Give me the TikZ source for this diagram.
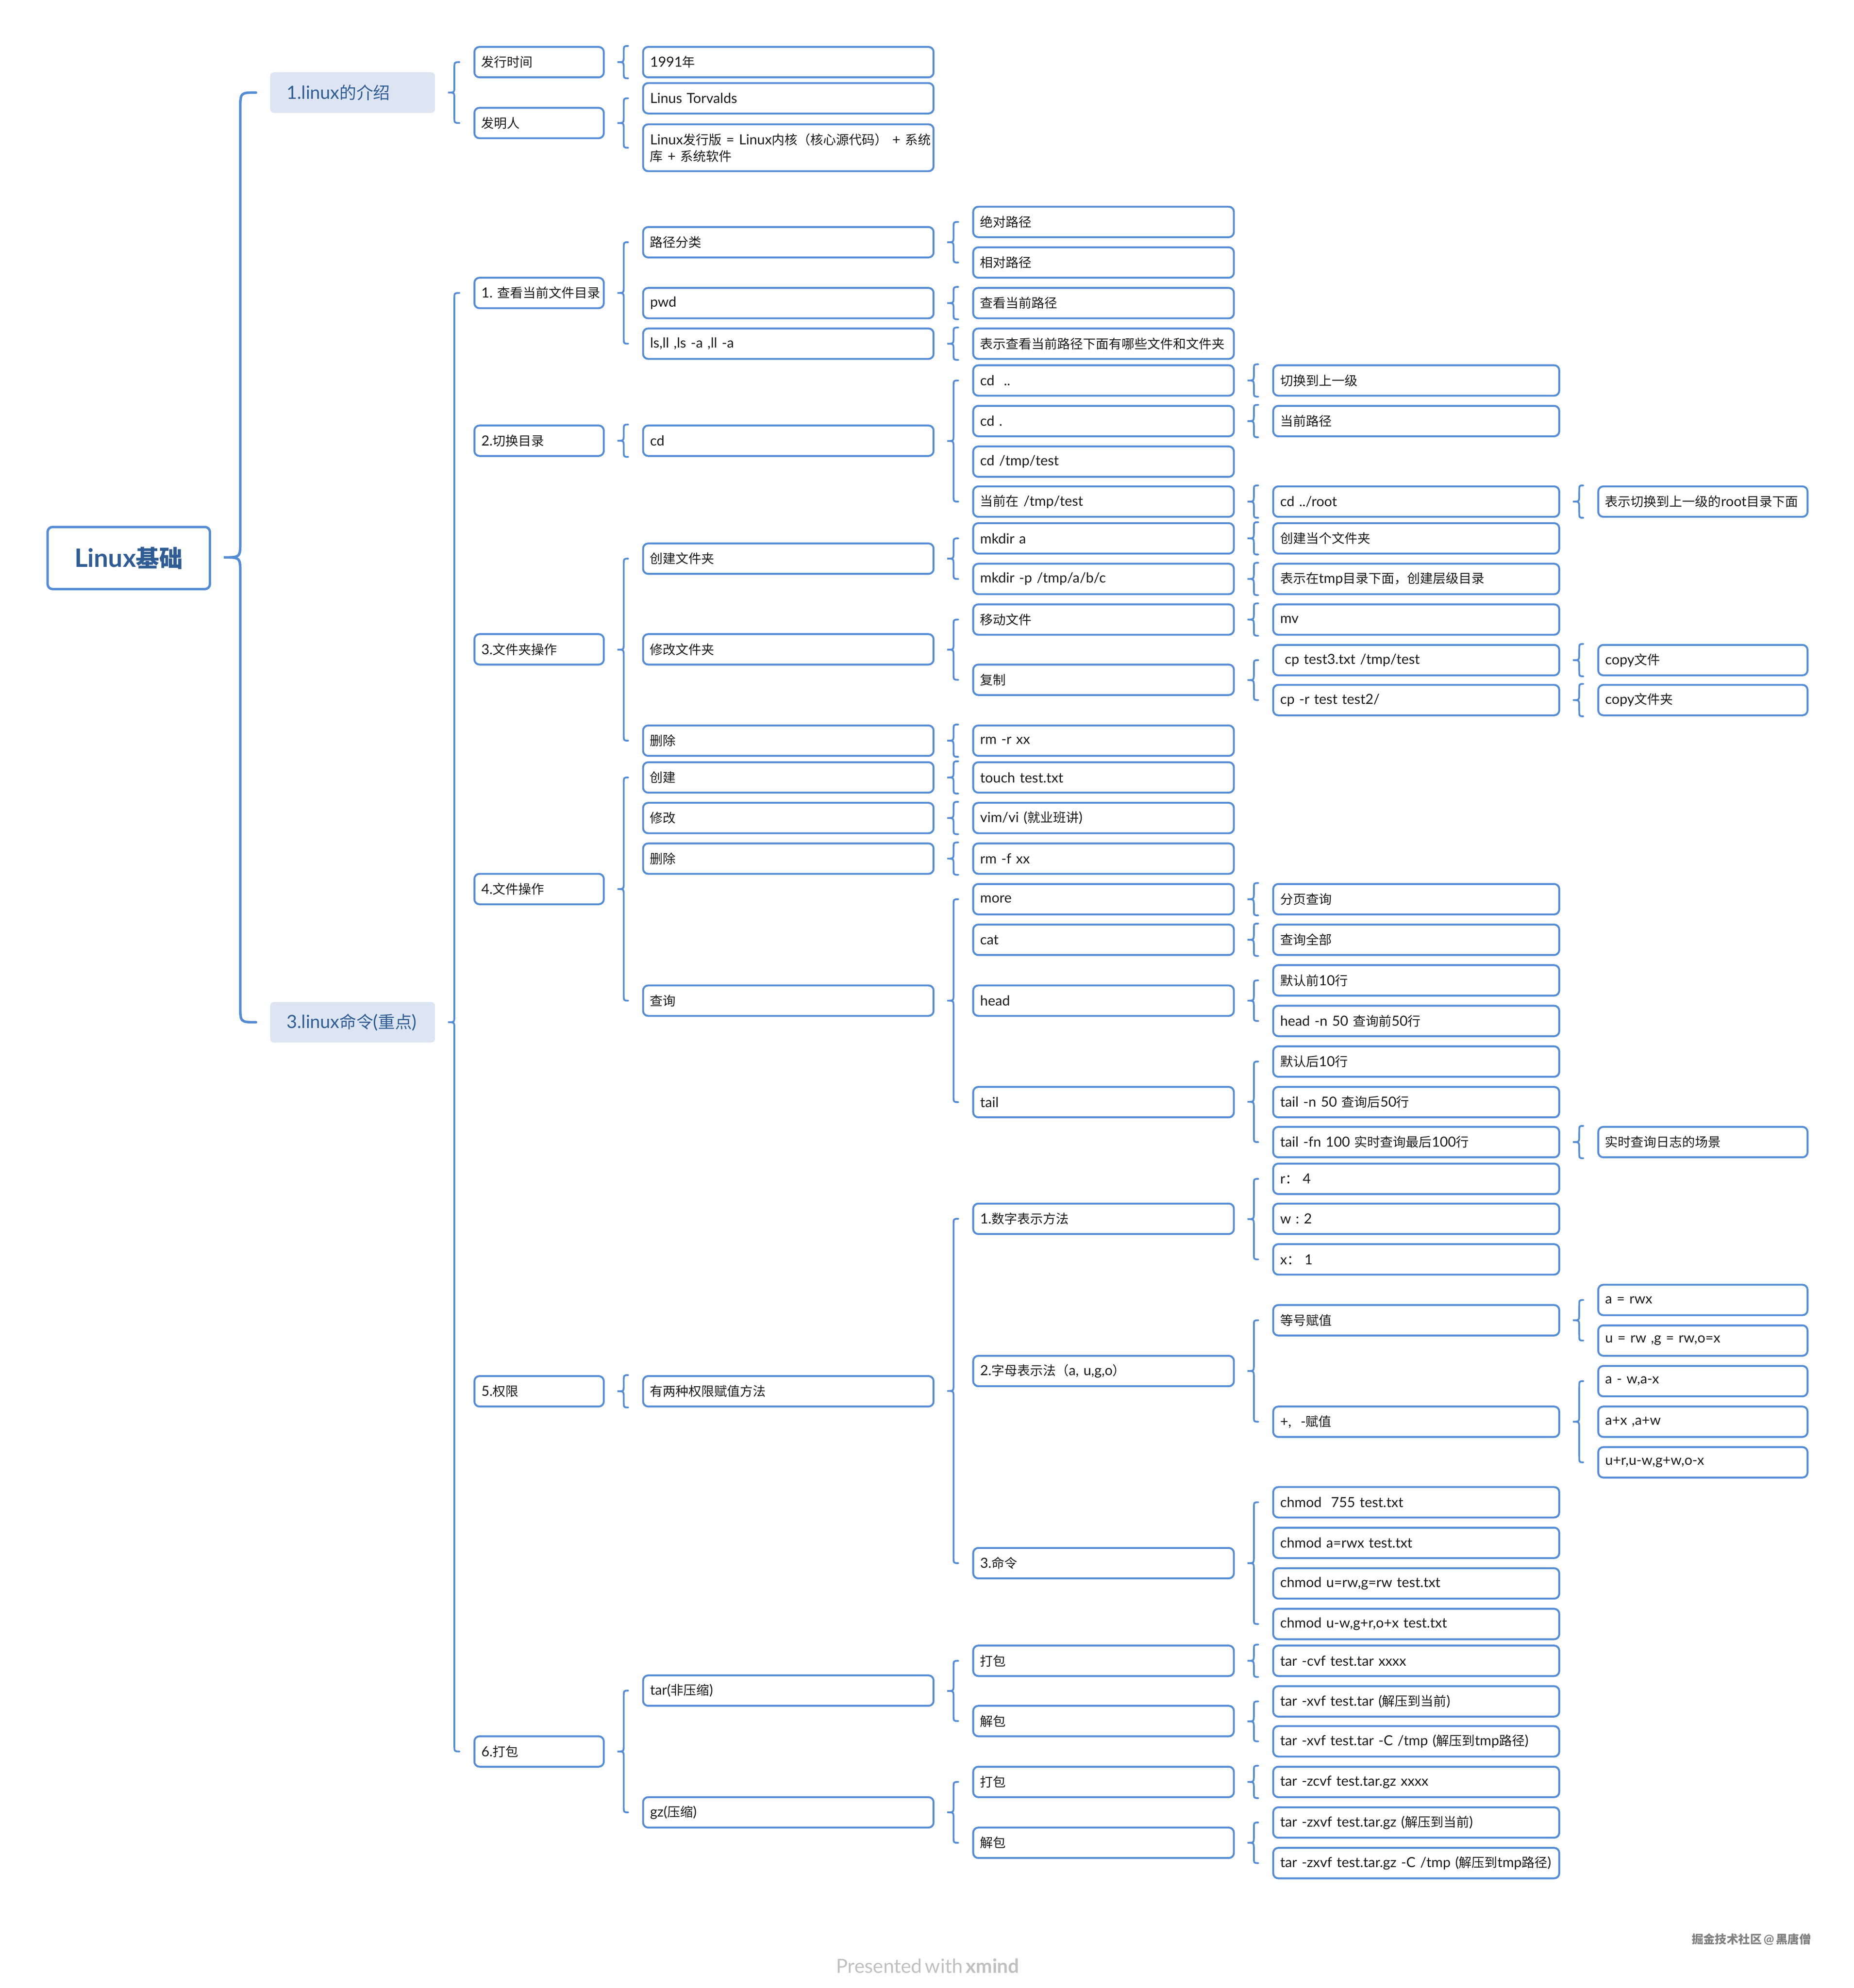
\documentclass[tikz,border=0pt]{standalone}
\usepackage{fontspec}
\usetikzlibrary{calc}
\setmainfont{Lato}[Scale=1.08,WordSpace=0.6]
\newfontfamily\cjk{Noto Sans CJK SC}
\frenchspacing
% switch to the CJK family at every change of script
\newcount\cjkchar
\newcommand{\markcjk}[2]{\cjkchar=#1 \loop \XeTeXcharclass\cjkchar=1 \advance\cjkchar by 1 \ifnum\cjkchar<#2 \repeat}
\markcjk{"3000}{"3040}
\markcjk{"4E00}{"A000}
\markcjk{"FF00}{"FFF0}
\XeTeXinterchartokenstate=1
\XeTeXinterchartoks 0 1 = {\begingroup\cjk}
\XeTeXinterchartoks 4095 1 = {\begingroup\cjk}
\XeTeXinterchartoks 1 0 = {\endgroup}
\XeTeXinterchartoks 1 4095 = {\endgroup}
\definecolor{linkblue}{HTML}{558CD6}
\definecolor{headblue}{HTML}{2F5C94}
\definecolor{headfill}{HTML}{DCE5F1}
\tikzset{
  leaf/.style={draw=linkblue,line width=1.5pt,rounded corners=4pt,fill=white,minimum height=24pt,
    inner xsep=5.5pt,inner ysep=0pt,align=left,font=\fontsize{10.15}{13}\selectfont,text=black!90},
  colA/.style={leaf,text width=91pt},
  colB/.style={leaf,text width=218pt},
  colC/.style={leaf,text width=194.5pt},
  colD/.style={leaf,text width=214.5pt},
  colE/.style={leaf,text width=154pt},
  head/.style={fill=headfill,rounded corners=3pt,minimum height=32pt,minimum width=104pt,text width=104pt,
    inner xsep=13pt,inner ysep=0pt,font=\fontsize{13.3}{16}\selectfont,text=headblue},
  bracket/.style={draw=linkblue,line width=1.4pt,line cap=round},
}
% radius, parent, first end, last end
\newcommand{\bracelink}[4][5]{%
  \draw[bracket] let \p1=(#2.east), \p2=(#3), \p3=(#4), \n1={\x1+10pt}, \n2={\x1+10pt+#1pt}, \n3={\x2-11pt},
    \n4={0.5*(\y2+\y3)} in
    (\n3,\y2) .. controls (\n2,\y2) and (\n2,\y2) .. (\n2,\y2-#1pt) -- (\n2,\n4+#1pt)
    .. controls (\n2,\n4) and (\n2,\n4) .. (\n1,\n4)
    .. controls (\n2,\n4) and (\n2,\n4) .. (\n2,\n4-#1pt) -- (\n2,\y3+#1pt)
    .. controls (\n2,\y3) and (\n2,\y3) .. (\n3,\y3);
}
\newcommand{\onelink}[2]{\bracelink{#1}{#2.north west}{#2.south west}}
\begin{document}
\begin{tikzpicture}[x=1pt,y=-1pt]
  \useasboundingbox (0,0) rectangle (1461.6,1567.5);

  % Root and main topics
  \node[draw=linkblue,line width=1.9pt,rounded corners=4pt,minimum width=128pt,minimum height=49pt,inner sep=0pt,
    font=\fontsize{18.5}{22}\selectfont\bfseries,text=headblue] (root) at (101.5,440) {Linux基础};
  \node[head] (intro) at (278,73) {1.linux的介绍};
  \node[head] (cmds) at (278,806) {3.linux命令(重点)};

  % Column A
  \node[colA] (a1) at (425,49) {发行时间};
  \node[colA] (a2) at (425,97) {发明人};
  \node[colA] (a3) at (425,231) {\mbox{1. 查看当前文件目录}};
  \node[colA] (a4) at (425,347.5) {2.切换目录};
  \node[colA] (a5) at (425,512) {3.文件夹操作};
  \node[colA] (a6) at (425,701) {4.文件操作};
  \node[colA] (a7) at (425,1097) {5.权限};
  \node[colA] (a8) at (425,1381) {6.打包};

  % Column B
  \node[colB] (b1) at (621.5,49) {1991年};
  \node[colB] (b2) at (621.5,77.5) {Linus Torvalds};
  \node[colB,minimum height=37pt] (b3) at (621.5,116.5) {\mbox{Linux发行版 = Linux内核（核心源代码） + 系统}\\库 + 系统软件};
  \node[colB] (b4) at (621.5,191) {路径分类};
  \node[colB] (b5) at (621.5,239) {pwd};
  \node[colB] (b6) at (621.5,271) {ls,ll ,ls -a ,ll -a};
  \node[colB] (b7) at (621.5,347.5) {cd};
  \node[colB] (b8) at (621.5,440.5) {创建文件夹};
  \node[colB] (b9) at (621.5,512) {修改文件夹};
  \node[colB] (b10) at (621.5,584) {删除};
  \node[colB] (b11) at (621.5,613) {创建};
  \node[colB] (b12) at (621.5,645) {修改};
  \node[colB] (b13) at (621.5,677) {删除};
  \node[colB] (b14) at (621.5,789) {查询};
  \node[colB] (b15) at (621.5,1097) {有两种权限赋值方法};
  \node[colB] (b16) at (621.5,1333) {tar(非压缩)};
  \node[colB] (b17) at (621.5,1429) {gz(压缩)};

  % Column C
  \node[colC] (c1) at (870,175) {绝对路径};
  \node[colC] (c2) at (870,207) {相对路径};
  \node[colC] (c3) at (870,239) {查看当前路径};
  \node[colC] (c4) at (870,271) {表示查看当前路径下面有哪些文件和文件夹};
  \node[colC] (c5) at (870,300) {cd \ ..};
  \node[colC] (c6) at (870,332) {cd .};
  \node[colC] (c7) at (870,364) {cd /tmp/test};
  \node[colC] (c8) at (870,395.5) {当前在 /tmp/test};
  \node[colC] (c9) at (870,424.5) {mkdir a};
  \node[colC] (c10) at (870,456.5) {mkdir -p /tmp/a/b/c};
  \node[colC] (c11) at (870,488.5) {移动文件};
  \node[colC] (c12) at (870,536) {复制};
  \node[colC] (c13) at (870,584) {rm -r xx};
  \node[colC] (c14) at (870,613) {touch test.txt};
  \node[colC] (c15) at (870,645) {vim/vi (就业班讲)};
  \node[colC] (c16) at (870,677) {rm -f xx};
  \node[colC] (c17) at (870,709) {more};
  \node[colC] (c18) at (870,741) {cat};
  \node[colC] (c19) at (870,789) {head};
  \node[colC] (c20) at (870,869) {tail};
  \node[colC] (c21) at (870,961) {1.数字表示方法};
  \node[colC] (c22) at (870,1081) {2.字母表示法（a, u,g,o）};
  \node[colC] (c23) at (870,1232.5) {3.命令};
  \node[colC] (c24) at (870,1309.5) {打包};
  \node[colC] (c25) at (870,1357) {解包};
  \node[colC] (c26) at (870,1405) {打包};
  \node[colC] (c27) at (870,1453) {解包};

  % Column D
  \node[colD] (d1) at (1116.5,300) {切换到上一级};
  \node[colD] (d2) at (1116.5,332) {当前路径};
  \node[colD] (d3) at (1116.5,395.5) {cd ../root};
  \node[colD] (d4) at (1116.5,424.5) {创建当个文件夹};
  \node[colD] (d5) at (1116.5,456.5) {表示在tmp目录下面，创建层级目录};
  \node[colD] (d6) at (1116.5,488.5) {mv};
  \node[colD] (d7) at (1116.5,520.5) {\ cp test3.txt /tmp/test};
  \node[colD] (d8) at (1116.5,552) {cp -r test test2/};
  \node[colD] (d9) at (1116.5,709) {分页查询};
  \node[colD] (d10) at (1116.5,741) {查询全部};
  \node[colD] (d11) at (1116.5,773) {默认前10行};
  \node[colD] (d12) at (1116.5,805) {head -n 50 查询前50行};
  \node[colD] (d13) at (1116.5,837) {默认后10行};
  \node[colD] (d14) at (1116.5,869) {tail -n 50 查询后50行};
  \node[colD] (d15) at (1116.5,900.5) {tail -fn 100 实时查询最后100行};
  \node[colD] (d16) at (1116.5,929.5) {r：\ 4};
  \node[colD] (d17) at (1116.5,961) {w : 2};
  \node[colD] (d18) at (1116.5,993) {x：\ 1};
  \node[colD] (d19) at (1116.5,1041) {等号赋值};
  \node[colD] (d20) at (1116.5,1121) {+,\ \ -赋值};
  \node[colD] (d21) at (1116.5,1184.5) {chmod\ \ 755 test.txt};
  \node[colD] (d22) at (1116.5,1216.5) {chmod a=rwx test.txt};
  \node[colD] (d23) at (1116.5,1248.5) {chmod u=rw,g=rw test.txt};
  \node[colD] (d24) at (1116.5,1280.5) {chmod u-w,g+r,o+x test.txt};
  \node[colD] (d25) at (1116.5,1309.5) {tar -cvf test.tar xxxx};
  \node[colD] (d26) at (1116.5,1341.5) {tar -xvf test.tar (解压到当前)};
  \node[colD] (d27) at (1116.5,1373) {tar -xvf test.tar -C /tmp (解压到tmp路径)};
  \node[colD] (d28) at (1116.5,1405) {tar -zcvf test.tar.gz xxxx};
  \node[colD] (d29) at (1116.5,1437) {tar -zxvf test.tar.gz (解压到当前)};
  \node[colD] (d30) at (1116.5,1469) {tar -zxvf test.tar.gz -C /tmp (解压到tmp路径)};

  % Column E
  \node[colE] (e1) at (1342.5,395.5) {表示切换到上一级的root目录下面};
  \node[colE] (e2) at (1342.5,520.5) {copy文件};
  \node[colE] (e3) at (1342.5,552) {copy文件夹};
  \node[colE] (e4) at (1342.5,900.5) {实时查询日志的场景};
  \node[colE] (e5) at (1342.5,1025) {a = rwx};
  \node[colE] (e6) at (1342.5,1057) {u = rw ,g = rw,o=x};
  \node[colE] (e7) at (1342.5,1089) {a - w,a-x};
  \node[colE] (e8) at (1342.5,1121) {a+x ,a+w};
  \node[colE] (e9) at (1342.5,1153) {u+r,u-w,g+w,o-x};

  % Braces
  \begin{scope}[bracket/.append style={line width=2pt}]
    \bracelink[13]{root}{intro.west}{cmds.west}
  \end{scope}
  \bracelink{intro}{a1.west}{a2.west}
  \bracelink{cmds}{a3.west}{a8.west}
  \onelink{a1}{b1}
  \bracelink{a2}{b2.west}{b3.west}
  \bracelink{a3}{b4.west}{b6.west}
  \onelink{a4}{b7}
  \bracelink{a5}{b8.west}{b10.west}
  \bracelink{a6}{b11.west}{b14.west}
  \onelink{a7}{b15}
  \bracelink{a8}{b16.west}{b17.west}
  \bracelink{b4}{c1.west}{c2.west}
  \onelink{b5}{c3}
  \onelink{b6}{c4}
  \bracelink{b7}{c5.west}{c8.west}
  \bracelink{b8}{c9.west}{c10.west}
  \bracelink{b9}{c11.west}{c12.west}
  \onelink{b10}{c13}
  \onelink{b11}{c14}
  \onelink{b12}{c15}
  \onelink{b13}{c16}
  \bracelink{b14}{c17.west}{c20.west}
  \bracelink{b15}{c21.west}{c23.west}
  \bracelink{b16}{c24.west}{c25.west}
  \bracelink{b17}{c26.west}{c27.west}
  \onelink{c5}{d1}
  \onelink{c6}{d2}
  \onelink{c8}{d3}
  \onelink{c9}{d4}
  \onelink{c10}{d5}
  \onelink{c11}{d6}
  \bracelink{c12}{d7.west}{d8.west}
  \onelink{c17}{d9}
  \onelink{c18}{d10}
  \bracelink{c19}{d11.west}{d12.west}
  \bracelink{c20}{d13.west}{d15.west}
  \bracelink{c21}{d16.west}{d18.west}
  \bracelink{c22}{d19.west}{d20.west}
  \bracelink{c23}{d21.west}{d24.west}
  \onelink{c24}{d25}
  \bracelink{c25}{d26.west}{d27.west}
  \onelink{c26}{d28}
  \bracelink{c27}{d29.west}{d30.west}
  \onelink{d3}{e1}
  \onelink{d7}{e2}
  \onelink{d8}{e3}
  \onelink{d15}{e4}
  \bracelink{d19}{e5.west}{e6.west}
  \bracelink{d20}{e7.west}{e9.west}

  % Footer
  \node[anchor=east,inner sep=0pt,font=\fontsize{9.2}{10}\selectfont\bfseries,text=black!50] (mark) at (1428,1529) {掘金技术社区 @ 黑唐僧};
  \node[anchor=west,inner sep=0pt,font=\fontsize{14.2}{16}\selectfont,text=black!25] (brand) at (659,1550) {Presented with \textbf{xmind}};
\end{tikzpicture}
\end{document}
